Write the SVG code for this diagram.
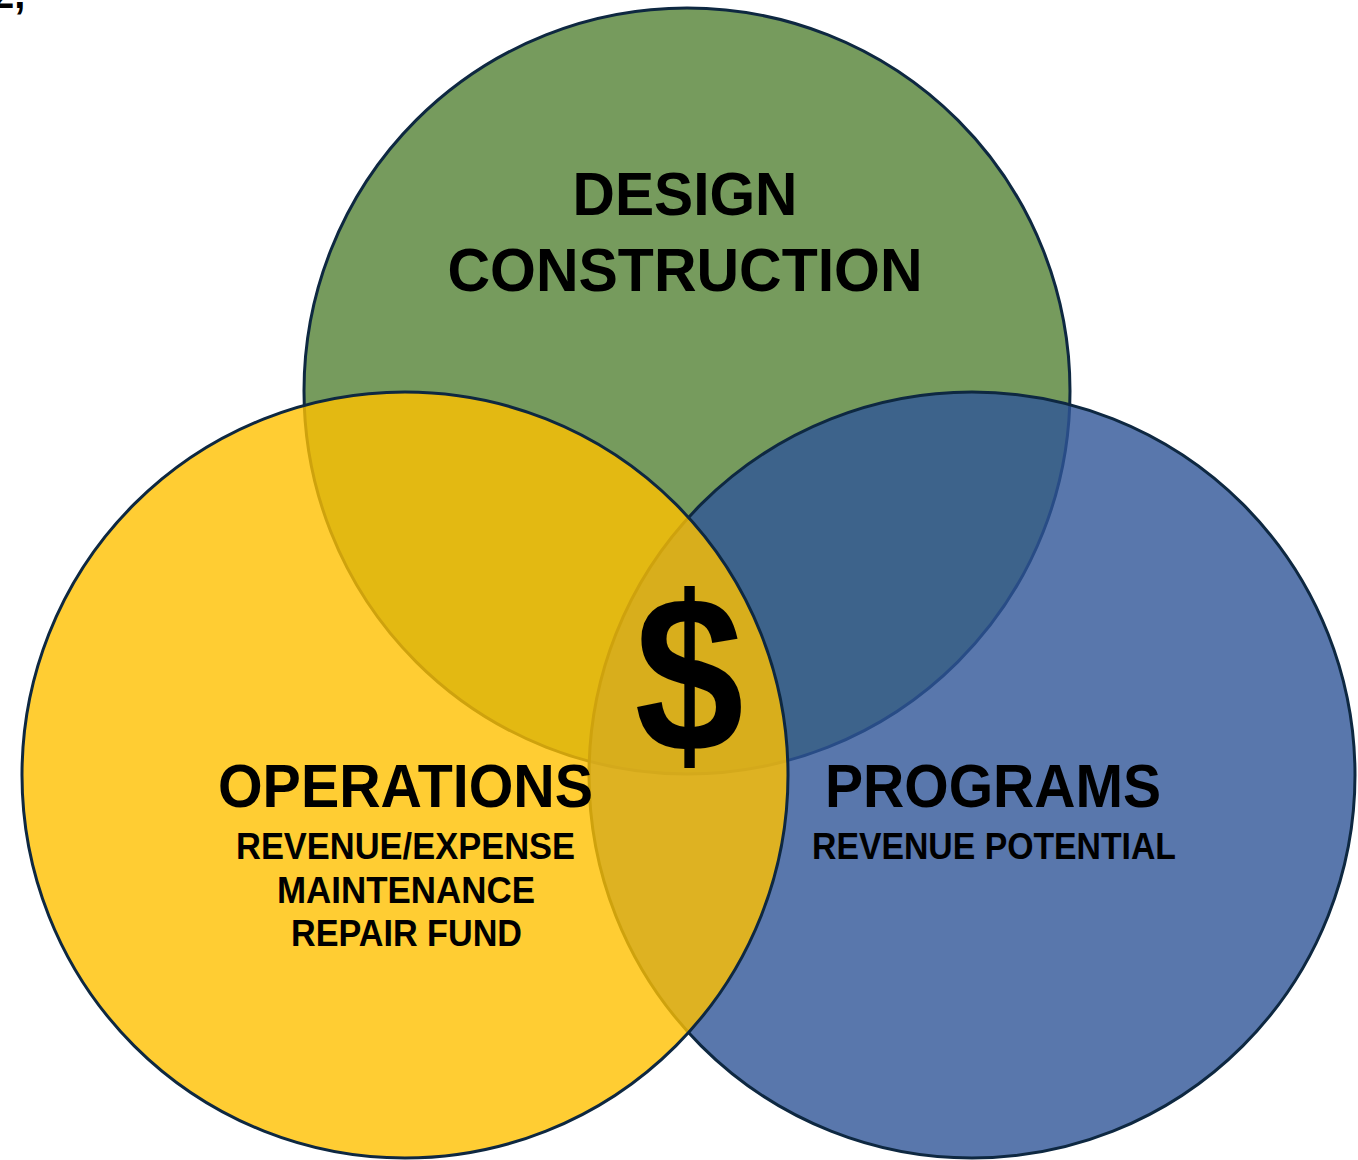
<svg xmlns="http://www.w3.org/2000/svg" width="1358" height="1160" viewBox="0 0 1358 1160">
<style>
.c{stroke:#0E2841;stroke-width:3;fill-opacity:0.8}
.h{font-family:"Liberation Sans",Arial,sans-serif;font-weight:bold;font-size:61px;fill:#000;text-anchor:middle}
.s{font-family:"Liberation Sans",Arial,sans-serif;font-weight:bold;font-size:36px;fill:#000;text-anchor:middle}
</style>
<rect width="1358" height="1160" fill="#fff"/>
<text x="-8" y="8" style="font-family:'Liberation Sans',Arial,sans-serif;font-weight:bold;font-size:40px;fill:#000">2,</text>
<g id="design">
<circle class="c" cx="687" cy="391" r="383" fill="#548235"/>
</g>
<g id="programs">
<circle class="c" cx="972" cy="775" r="383" fill="#2F5597"/>
</g>
<g id="operations">
<circle class="c" cx="405" cy="775" r="383" fill="#FFC000"/>
</g>
<g id="design-label">
<text class="h" x="685" y="215" textLength="225" lengthAdjust="spacingAndGlyphs">DESIGN</text>
<text class="h" x="685" y="291" textLength="475" lengthAdjust="spacingAndGlyphs">CONSTRUCTION</text>
</g>
<g id="operations-label">
<text class="h" x="405.5" y="807" textLength="375" lengthAdjust="spacingAndGlyphs">OPERATIONS</text>
<text class="s" x="405.5" y="859" textLength="339" lengthAdjust="spacingAndGlyphs">REVENUE/EXPENSE</text>
<text class="s" x="406" y="903" textLength="258" lengthAdjust="spacingAndGlyphs">MAINTENANCE</text>
<text class="s" x="406.5" y="946" textLength="231" lengthAdjust="spacingAndGlyphs">REPAIR FUND</text>
</g>
<g id="programs-label">
<text class="h" x="993" y="807" textLength="336" lengthAdjust="spacingAndGlyphs">PROGRAMS</text>
<text class="s" x="994" y="859" textLength="364" lengthAdjust="spacingAndGlyphs">REVENUE POTENTIAL</text>
</g>
<g id="center">
<text transform="translate(689,751) scale(0.88,1)" x="0" y="0" style="font-family:'Liberation Sans',Arial,sans-serif;font-weight:bold;font-size:223px;fill:#000;text-anchor:middle">$</text>
</g>
<g id="connectors"></g>
</svg>
